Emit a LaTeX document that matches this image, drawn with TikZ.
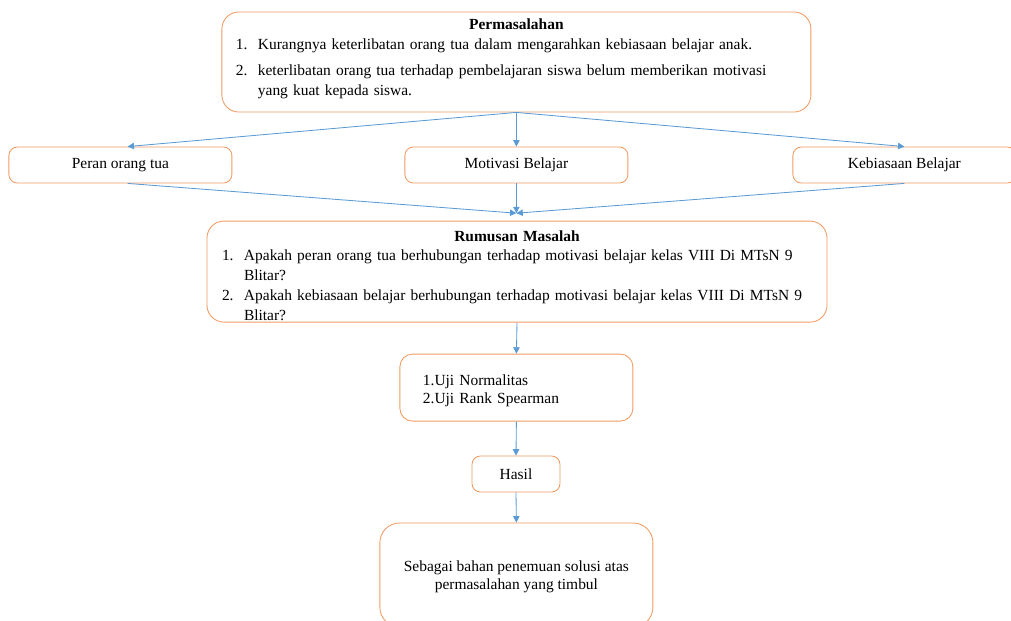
\documentclass[tikz,border=0pt]{standalone}
\usepackage{fontspec}
\setmainfont{Liberation Serif}
\usetikzlibrary{positioning,arrows.meta}

\definecolor{boxline}{RGB}{242,153,96}
\definecolor{arline}{RGB}{91,155,213}

\newcommand{\litem}[2]{\par\noindent\hangindent=0.55cm\hangafter=1%
  \makebox[0.55cm][l]{#1}#2\par}

\begin{document}
\begin{tikzpicture}[
  bx/.style={draw=boxline, line width=0.6pt, rounded corners=#1, align=center,
             font=\fontsize{11}{14}\selectfont, inner sep=0pt},
  bx/.default=6pt,
  tx/.style={align=left, inner sep=0pt, font=\fontsize{11}{14}\selectfont},
  ar/.style={-{Triangle[length=0.16cm, width=0.16cm]}, draw=arline, line width=0.6pt}
]
\useasboundingbox (0,0) rectangle (25.275,-15.525);
\clip (0,0) rectangle (25.275,-15.525);

% boxes
\node[bx=12pt, minimum width=14.725cm, minimum height=2.5cm] (P) at (12.91,-1.55) {};
\node[bx, minimum width=5.575cm, minimum height=0.9cm] (Pr) at (3.01,-4.125) {Peran orang tua};
\node[bx, minimum width=5.575cm, minimum height=0.9cm] (M)  at (12.91,-4.125) {Motivasi Belajar};
\node[bx, minimum width=5.575cm, minimum height=0.9cm] (K)  at (22.61,-4.125) {Kebiasaan Belajar};
\node[bx=12pt, minimum width=15.5cm, minimum height=2.525cm] (R) at (12.925,-6.79) {};
\node[bx=9pt, minimum width=5.825cm, minimum height=1.675cm, text width=4.675cm,
      inner xsep=0.575cm, align=left, font=\fontsize{11}{12.5}\selectfont] (U) at (12.91,-9.69)
  {\parbox{4.675cm}{\vspace*{0.15cm}1.Uji Normalitas\\2.Uji Rank Spearman}};
\node[bx, minimum width=2.2cm, minimum height=0.9cm] (H) at (12.9,-11.85) {Hasil};
\node[bx=14pt, minimum width=6.825cm, minimum height=2.6cm, font=\fontsize{11}{13}\selectfont]
  (S) at (12.91,-14.375) {\parbox{6.5cm}{\centering\vspace*{0.1cm}
    Sebagai bahan penemuan solusi atas\\permasalahan yang timbul}};

% box texts
\node[tx, text width=14.025cm, below=0.18cm of P.north] (Pt) {%
  {\centering\bfseries Permasalahan\par}
  \litem{1.}{Kurangnya keterlibatan orang tua dalam mengarahkan kebiasaan belajar anak.}
  \vspace{0.17cm}
  \litem{2.}{keterlibatan orang tua terhadap pembelajaran siswa belum memberikan motivasi\newline
    yang kuat kepada siswa.}};
\node[tx, text width=14.75cm, below=0.24cm of R.north] (Rt) {%
  {\centering\bfseries Rumusan Masalah\par}
  \litem{1.}{Apakah peran orang tua berhubungan terhadap motivasi belajar kelas VIII Di MTsN 9\newline
    Blitar?}
  \litem{2.}{Apakah kebiasaan belajar berhubungan terhadap motivasi belajar kelas VIII Di MTsN 9\newline
    Blitar?}};

% connectors
\coordinate (J) at (12.91,-5.33);
\draw[ar] (P.south) -- ([xshift=0.18cm]Pr.north);
\draw[ar] (P.south) -- (M.north);
\draw[ar] (P.south) -- (K.north);
\draw[ar] ([xshift=0.18cm]Pr.south) -- (J);
\draw[ar] (M.south) -- (J);
\draw[ar] (K.south) -- (J);
\draw[ar] (R.south) -- (U.north);
\draw[ar] (U.south) -- (H.north);
\draw[ar] (H.south) -- (S.north);
\end{tikzpicture}
\end{document}
